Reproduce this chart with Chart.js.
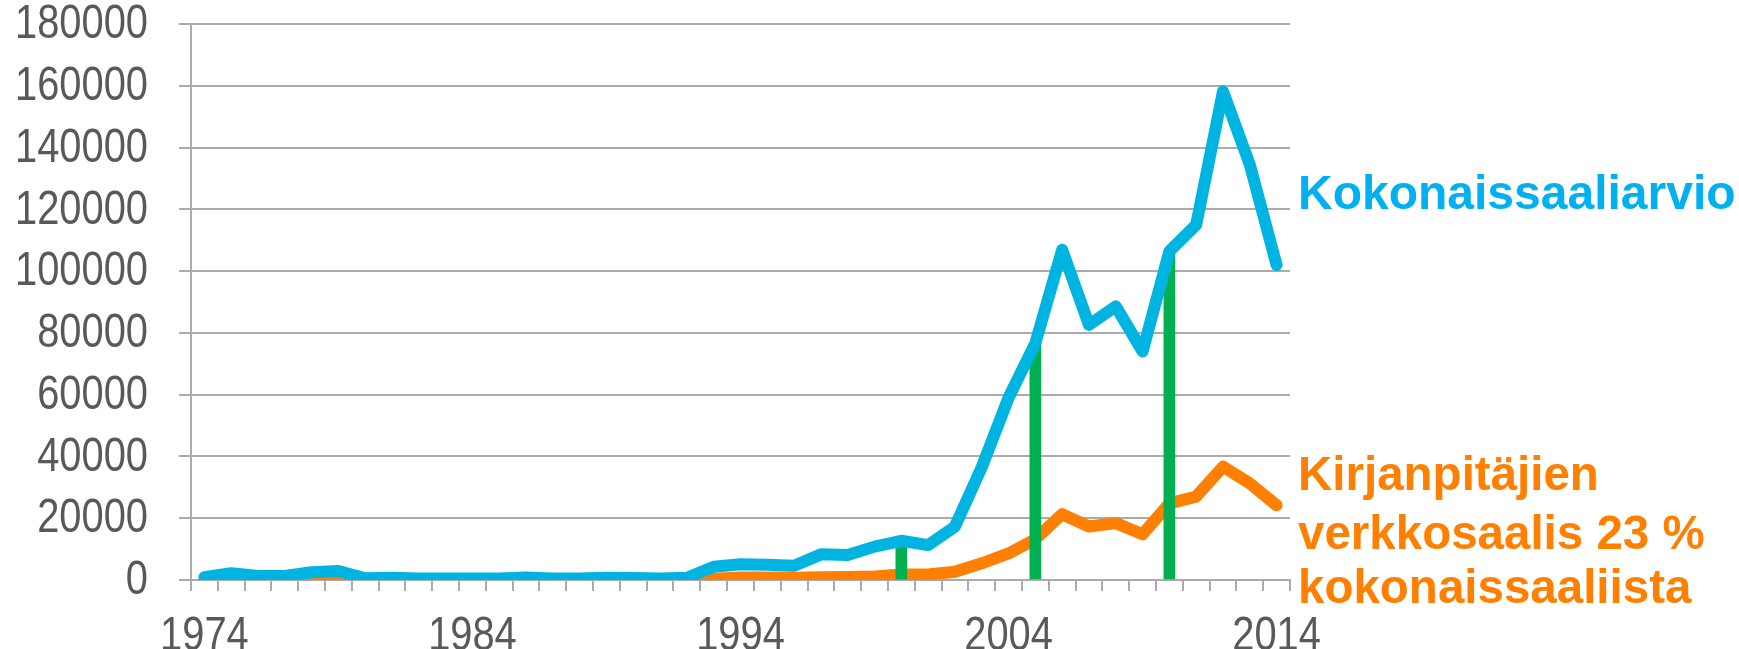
<!DOCTYPE html>
<html>
<head>
<meta charset="utf-8">
<script src="https://cdn.jsdelivr.net/npm/chart.js@4.4.1/dist/chart.umd.min.js"></script>
<style>
  html, body { margin: 0; padding: 0; background: #fff; }
  #wrap { width: 1739px; height: 649px; position: relative; }
</style>
</head>
<body>
<div id="wrap"><canvas id="chart"></canvas></div>
<script>
/* Kokonaissaalis vs. kirjanpitäjien verkkosaalis */

const years = [
  1974, 1975, 1976, 1977, 1978, 1979, 1980, 1981, 1982, 1983,
  1984, 1985, 1986, 1987, 1988, 1989, 1990, 1991, 1992, 1993,
  1994, 1995, 1996, 1997, 1998, 1999, 2000, 2001, 2002, 2003,
  2004, 2005, 2006, 2007, 2008, 2009, 2010, 2011, 2012, 2013,
  2014
];

// Kokonaissaaliarvio
const totalCatch = [
  900, 2200, 1300, 1300, 2500, 2900, 550, 750, 450, 450,
  450, 450, 850, 450, 450, 700, 650, 500, 750, 4300,
  5100, 4900, 4600, 8300, 8100, 10800, 12700, 11300, 17300, 36500,
  59000, 76700, 106900, 82600, 88600, 74000, 106400, 115000, 158200, 134500,
  102000
];

// Kirjanpitäjien verkkosaalis
const netCatch = [
  0, 200, 0, 0, 400, 600, 0, 0, 0, 0,
  0, 0, 0, 0, 0, 0, 0, 0, 0, 400,
  800, 800, 750, 900, 1000, 1100, 1800, 1800, 2700, 5400,
  8600, 13200, 21300, 17300, 18400, 14800, 24800, 27000, 36700, 31300,
  24200
];

// vihreät pystyviivat (2000, 2005, 2010)
const markerBars = [
  null, null, null, null, null, null, null, null, null, null,
  null, null, null, null, null, null, null, null, null, null,
  null, null, null, null, null, null, 12700, null, null, null,
  null, 76700, null, null, null, null, 106400, null, null, null,
  null
];

const yTicks = { min: 0, max: 180000, step: 20000 };
const labelYears = [1974, 1984, 1994, 2004, 2014];

const BLUE = "#00B4E1";
const BLUE_TEXT = "#00B0F0";
const ORANGE = "#FF8000";
const GREEN = "#00B050";
const GRID = "#ABABAB";
const TXT = "#595959";
const FONT = "'Liberation Sans', Arial, sans-serif";

// akselien numerot: kapeampi, korkea teksti kuten alkuperäisessä
const TICK_SIZE = 48;
const TICK_SQUEEZE = 0.83;

function squeezedText(ctx, text, x, y) {
  ctx.save();
  ctx.translate(x, y);
  ctx.scale(TICK_SQUEEZE, 1);
  ctx.fillText(text, 0, 0);
  ctx.restore();
}

const axisLabels = {
  id: "axisLabels",
  afterDraw(chart) {
    const ctx = chart.ctx;
    const xs = chart.scales.x;
    const ys = chart.scales.y;
    ctx.save();
    ctx.font = TICK_SIZE + "px " + FONT;
    ctx.fillStyle = TXT;

    ctx.textAlign = "right";
    ctx.textBaseline = "middle";
    const yRight = chart.chartArea.left - 12 - 31;
    ys.ticks.forEach((t, i) => {
      squeezedText(ctx, String(t.value), yRight, ys.getPixelForTick(i) + 1);
    });

    ctx.textAlign = "center";
    ctx.textBaseline = "alphabetic";
    years.forEach((yr, i) => {
      if (!labelYears.includes(yr)) return;
      squeezedText(ctx, String(yr), xs.getPixelForTick(i), xs.top + 70);
    });
    ctx.restore();
  }
};

const sideLabels = {
  id: "sideLabels",
  afterDraw(chart) {
    const ctx = chart.ctx;
    const x = chart.chartArea.right;
    ctx.save();
    ctx.textAlign = "left";
    ctx.textBaseline = "alphabetic";
    ctx.font = "bold 48px " + FONT;
    ctx.fillStyle = BLUE_TEXT;
    ctx.fillText("Kokonaissaaliarvio", x + 8, 209);

    ctx.font = "bold 47.5px " + FONT;
    ctx.fillStyle = ORANGE;
    ctx.fillText("Kirjanpitäjien", x + 8, 490);
    ctx.fillText("verkkosaalis 23 %", x + 8, 549);
    ctx.fillText("kokonaissaaliista", x + 8, 603);
    ctx.restore();
  }
};

new Chart(document.getElementById("chart"), {
  type: "bar",
  data: {
    labels: years.map(String),
    datasets: [
      {
        type: "line",
        label: "Kokonaissaaliarvio",
        data: totalCatch,
        borderColor: BLUE,
        borderWidth: 12,
        borderJoinStyle: "round",
        borderCapStyle: "round",
        pointRadius: 0,
        tension: 0,
        clip: 0,
        order: 0
      },
      {
        type: "bar",
        label: "merkit",
        data: markerBars,
        backgroundColor: GREEN,
        borderWidth: 0,
        barThickness: 11,
        order: 1
      },
      {
        type: "line",
        label: "Kirjanpitäjien verkkosaalis",
        data: netCatch,
        borderColor: ORANGE,
        borderWidth: 12,
        borderJoinStyle: "round",
        borderCapStyle: "round",
        pointRadius: 0,
        tension: 0,
        clip: 0,
        order: 2
      }
    ]
  },
  options: {
    responsive: true,
    maintainAspectRatio: false,
    animation: false,
    devicePixelRatio: 1,
    layout: { padding: { left: 0, top: 24, right: 449, bottom: 0 } },
    plugins: {
      legend: { display: false },
      tooltip: { enabled: false }
    },
    scales: {
      x: {
        offset: true,
        grid: {
          offset: true,
          drawOnChartArea: false,
          drawTicks: true,
          tickLength: 11,
          color: GRID,
          lineWidth: 2
        },
        border: { display: true, color: GRID, width: 2 },
        ticks: { display: false, autoSkip: false, maxRotation: 0 },
        afterFit(scale) {
          scale.height = 69;
          scale.paddingLeft = 0;
          scale.paddingRight = 0;
        }
      },
      y: {
        min: yTicks.min,
        max: yTicks.max,
        grid: {
          color: GRID,
          lineWidth: 2,
          tickLength: 12
        },
        border: { display: true, color: GRID, width: 2 },
        ticks: { display: false, stepSize: yTicks.step },
        afterFit(scale) {
          scale.width = 191;
          scale.paddingTop = 0;
          scale.paddingBottom = 0;
        }
      }
    }
  },
  plugins: [axisLabels, sideLabels]
});
</script>
</body>
</html>
